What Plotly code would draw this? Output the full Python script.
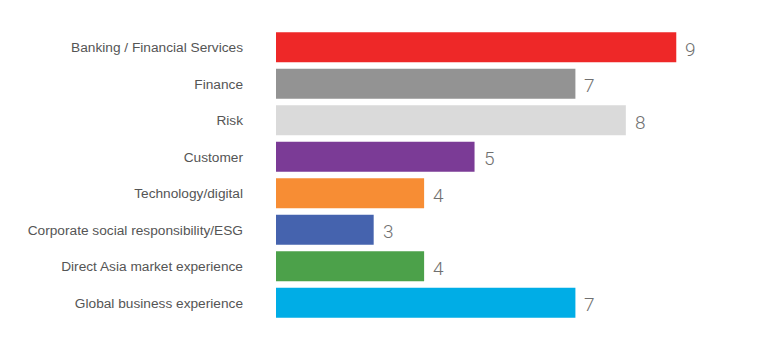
import plotly.graph_objects as go

categories = [
    "Banking / Financial Services",
    "Finance",
    "Risk",
    "Customer",
    "Technology/digital",
    "Corporate social responsibility/ESG",
    "Direct Asia market experience",
    "Global business experience",
]
values = [9, 7, 8, 5, 4, 3, 4, 7]
colors = ["#EE2828", "#939393", "#DADADA", "#7B3B96", "#F78D34", "#4563AE", "#4CA14A", "#00ADE6"]

fig = go.Figure()
fig.add_trace(go.Bar(
    y=categories, x=values, orientation="h",
    marker=dict(color=colors, line=dict(width=0)),
    hoverinfo="skip", cliponaxis=True,
))

for c, v in zip(categories, values):
    fig.add_annotation(
        x=v, y=c, text=str(v), showarrow=False,
        xanchor="left", xshift=7, yshift=-2,
        font=dict(family="Roboto", size=19, color="#707070", weight=300),
    )

fig.update_layout(
    width=758, height=352,
    margin=dict(l=276, r=8, t=29, b=31),
    plot_bgcolor="white", paper_bgcolor="white",
    bargap=0.18,
    showlegend=False,
    xaxis=dict(range=[1.063, 10.462], visible=False),
    yaxis=dict(
        autorange="reversed",
        showgrid=False, showline=False, zeroline=False,
        ticks="", ticklabelstandoff=32,
        tickfont=dict(family="Liberation Sans", size=13.7, color="#555555"),
    ),
)
fig.write_html("out.html")
